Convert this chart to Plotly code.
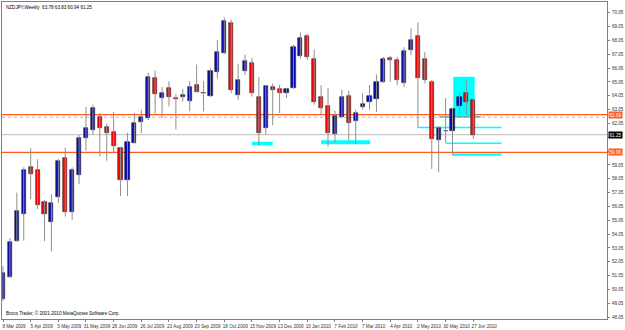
import plotly.graph_objects as go
import datetime as dt

# ---------------- data ----------------
start = dt.date(2009, 3, 8)
dates = [(start + dt.timedelta(weeks=i)).strftime("%-d %b %Y") for i in range(69)]

opens = [49.36, 50.95, 53.55, 55.53, 58.88, 58.72, 56.36, 54.91, 56.72, 59.55,
         55.62, 58.29, 61.00, 61.55, 62.55, 61.76, 61.41, 60.26, 57.93, 60.67,
         62.17, 62.45, 65.36, 63.86, 64.62, 63.88, 63.93, 63.69, 64.83, 64.22,
         64.03, 65.76, 67.12, 69.34, 64.12, 65.86, 66.43, 63.98, 61.69, 64.69,
         64.57, 64.24, 64.62, 66.93, 68.36, 66.74, 63.95, 63.33, 61.29, 62.53,
         64.05, 62.22, 63.24, 63.60, 63.81, 65.03, 66.81, 66.67, 64.98, 67.36,
         68.41, 66.74, 65.03, 60.86, 61.50, 61.50, 63.29, 64.24, 63.78]
highs = [51.74, 53.76, 57.05, 58.88, 60.26, 59.45, 56.50, 56.93, 59.48, 60.31,
         58.88, 61.22, 63.24, 63.41, 62.81, 62.03, 62.88, 60.30, 61.38, 62.81,
         63.05, 65.72, 65.88, 64.69, 65.12, 64.17, 64.55, 65.12, 66.31, 65.12,
         66.03, 68.10, 69.72, 69.55, 66.38, 67.03, 66.81, 65.43, 64.83, 64.95,
         64.83, 64.64, 67.74, 68.65, 68.53, 67.41, 64.83, 64.60, 62.98, 64.48,
         64.41, 63.05, 64.24, 64.83, 65.60, 66.86, 66.93, 66.86, 67.57, 68.93,
         69.36, 67.22, 65.19, 61.86, 63.88, 63.20, 64.31, 65.19, 63.83]
lows = [49.20, 50.91, 53.50, 53.57, 56.57, 55.86, 53.53, 52.79, 56.31, 55.31,
        55.07, 57.65, 60.07, 61.22, 59.67, 59.36, 59.95, 56.79, 56.79, 60.60,
        61.36, 62.29, 62.76, 62.45, 63.29, 61.62, 63.64, 62.93, 64.31, 62.93,
        63.98, 65.31, 67.05, 64.24, 63.76, 65.55, 64.00, 60.43, 61.26, 61.93,
        62.81, 63.88, 64.57, 66.74, 66.67, 63.41, 62.69, 60.36, 60.67, 62.45,
        60.79, 60.55, 63.05, 63.05, 62.88, 64.98, 65.07, 64.83, 64.67, 66.98,
        61.74, 64.95, 58.76, 58.53, 60.67, 59.76, 62.69, 62.69, 60.94]
closes = [51.26, 53.45, 55.72, 58.65, 58.41, 56.15, 55.50, 56.29, 59.31, 55.62,
          58.69, 61.00, 61.69, 63.15, 61.74, 61.36, 60.41, 57.93, 60.72, 62.12,
          62.53, 65.41, 64.17, 64.29, 63.95, 63.79, 64.12, 64.69, 64.36, 64.26,
          65.84, 67.24, 69.43, 64.50, 65.17, 66.57, 64.24, 61.34, 64.74, 64.48,
          64.22, 64.57, 67.55, 68.24, 66.86, 63.60, 63.17, 61.38, 62.57, 63.93,
          62.05, 62.81, 63.45, 64.05, 65.03, 66.69, 66.67, 65.19, 67.29, 68.12,
          65.36, 65.19, 60.91, 61.69, 61.47, 63.10, 63.98, 63.57, 61.25]

y_ticks = [48.05 + k for k in range(23)]
x_tick_idx = list(range(0, 69, 4))

# horizontal price lines: (level, color, dash, label bg)
price_lines = [(62.69, "#FF5A1F", "solid", "#FF5A1F"),
               (62.50, "#F7A27A", "dot", None),
               (61.25, "#C8C8C8", "solid", "#000000"),
               (59.96, "#FF5A1F", "solid", "#FF5A1F")]

# cyan drawn segments: (x0 idx, x1 idx, level, width)
cyan_segments = [(36.0, 39.0, 60.60, 3.5),
                 (46.0, 53.1, 60.69, 4),
                 (60.0, 72.1, 61.76, 1.4),
                 (64.0, 72.1, 60.62, 1.6),
                 (65.0, 72.1, 59.80, 2.2)]
cyan_box = (65.1, 68.2, 62.53, 65.43)
teal_seg = (63.0, 69.1, 62.53)

header = "NZDJPY,Weekly  63.78 63.83 60.94 61.25"
footer = "Broco Trader, © 2001-2010 MetaQuotes Software Corp."

# ---------------- figure ----------------
n = len(dates)
xs = list(range(n))

fig = go.Figure()

# wicks
wx, wy = [], []
for i in xs:
    wx += [i, i, None]
    wy += [lows[i], highs[i], None]
fig.add_trace(go.Scatter(x=wx, y=wy, mode="lines",
                         line=dict(color="#8f8f8f", width=1), hoverinfo="skip",
                         showlegend=False))

# bodies
base = [min(o, c) for o, c in zip(opens, closes)]
height = [max(abs(c - o), 0.04) for o, c in zip(opens, closes)]
colors = ["#0A0AB4" if c >= o else "#FF0000" for o, c in zip(opens, closes)]
fig.add_trace(go.Bar(x=xs, y=height, base=base, width=0.6,
                     marker=dict(color=colors, line=dict(color="#2a2a2a", width=0.6)),
                     customdata=dates, hovertemplate="%{customdata}<extra></extra>",
                     showlegend=False))

shapes = []
# cyan box (background)
shapes.append(dict(type="rect", xref="x", yref="y", x0=cyan_box[0], x1=cyan_box[1],
                   y0=cyan_box[2], y1=cyan_box[3], fillcolor="#00FFFF",
                   line=dict(width=0), layer="below"))
for lvl, col, dash, _ in price_lines:
    shapes.append(dict(type="line", xref="paper", yref="y", x0=0, x1=1, y0=lvl, y1=lvl,
                       line=dict(color=col, width=1.2, dash=dash), layer="below"))
for x0, x1, lvl, w in cyan_segments:
    shapes.append(dict(type="line", xref="x", yref="y", x0=x0, x1=x1, y0=lvl, y1=lvl,
                       line=dict(color="#00FFFF", width=w), layer="below"))
shapes.append(dict(type="line", xref="x", yref="y", x0=teal_seg[0], x1=teal_seg[1],
                   y0=teal_seg[2], y1=teal_seg[2], line=dict(color="#5A9E9E", width=1.2),
                   layer="below"))

annotations = [
    dict(text=header, xref="paper", yref="paper", x=0, y=1, xanchor="left", yanchor="top",
         xshift=2, yshift=-1, showarrow=False, font=dict(size=4.6, color="#000000")),
    dict(text=footer, xref="paper", yref="paper", x=0, y=0, xanchor="left", yanchor="bottom",
         xshift=2, yshift=1, showarrow=False, font=dict(size=4.6, color="#000000")),
]
for lvl, col, dash, bg in price_lines:
    if bg is None:
        continue
    annotations.append(dict(text=f"{lvl:.2f}", xref="paper", yref="y", x=1, y=lvl,
                            xanchor="left", yanchor="middle", showarrow=False,
                            bgcolor=bg, borderpad=0.5, xshift=1,
                            font=dict(size=4.6, color="#FFFFFF")))

# tick labels hidden behind the price-line boxes in the original
hidden = {61.05, 60.05}
y_text = ["" if round(v, 2) in hidden else f"{v:.2f}" for v in y_ticks]

fig.update_layout(
    width=625, height=330,
    margin=dict(l=1, r=16, t=1, b=8),
    paper_bgcolor="#FFFFFF", plot_bgcolor="#FFFFFF",
    bargap=0, showlegend=False,
    font=dict(family="Liberation Sans, Arial, sans-serif", size=4.6, color="#333333"),
    shapes=shapes, annotations=annotations,
    xaxis=dict(range=[-0.144, 87.34], tickmode="array", tickvals=x_tick_idx,
               ticktext=[dates[i] for i in x_tick_idx], ticks="outside", ticklen=2,
               tickangle=0,
               tickcolor="#808080", showgrid=False, zeroline=False,
               showline=True, linecolor="#808080", linewidth=1, mirror=True,
               ticklabelshift=11, ticklabelstandoff=0,
               tickfont=dict(size=4.6, color="#333333")),
    yaxis=dict(range=[47.907, 70.836], side="right", tickmode="array", tickvals=y_ticks,
               ticktext=y_text, ticks="outside", ticklen=2,
               tickcolor="#808080", showgrid=False, zeroline=False,
               showline=True, linecolor="#808080", linewidth=1, mirror=True,
               ticklabelstandoff=1,
               tickfont=dict(size=4.6, color="#333333")),
)

fig.write_html("out.html")
